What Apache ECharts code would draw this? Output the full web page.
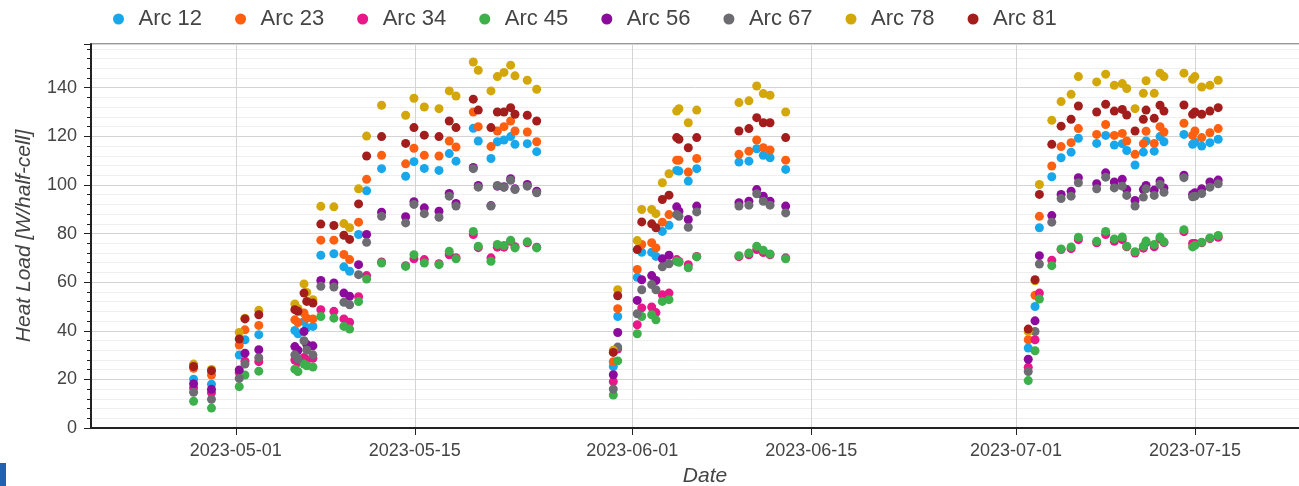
<!DOCTYPE html>
<html><head><meta charset="utf-8">
<script src="https://cdn.jsdelivr.net/npm/echarts@6/dist/echarts.min.js"></script>
<style>html,body{margin:0;padding:0;background:#fff}#c{width:1299px;height:486px}</style>
</head><body><div id="c"></div>
<script>
const seriesNames = ['Arc 12','Arc 23','Arc 34','Arc 45','Arc 56','Arc 67','Arc 78','Arc 81'];
const times = [
"2023-04-27T16:50","2023-04-29T02:25","2023-05-01T06:30","2023-05-01T17:15","2023-05-02T19:10","2023-05-05T14:50","2023-05-05T20:40","2023-05-06T08:00","2023-05-06T13:10","2023-05-07T00:45",
"2023-05-07T15:35","2023-05-08T16:05","2023-05-09T10:50","2023-05-09T21:35","2023-05-10T14:25","2023-05-11T05:30","2023-05-12T09:35","2023-05-14T06:45","2023-05-14T22:20","2023-05-15T17:45",
"2023-05-16T21:20","2023-05-17T16:35","2023-05-18T05:15","2023-05-19T13:40","2023-05-19T23:00","2023-05-20T22:50","2023-05-21T10:50","2023-05-21T23:15","2023-05-22T11:45","2023-05-22T19:55",
"2023-05-23T19:00","2023-05-24T12:40","2023-05-30T12:25","2023-05-30T20:40","2023-06-01T09:20","2023-06-01T17:45","2023-06-02T12:25","2023-06-02T20:25","2023-06-03T08:25","2023-06-03T20:55",
"2023-06-04T11:20","2023-06-04T15:35","2023-06-05T09:05","2023-06-06T00:55","2023-06-09T08:10","2023-06-10T02:50","2023-06-10T17:30","2023-06-11T05:50","2023-06-11T18:30","2023-06-12T23:50",
"2023-07-01T23:00","2023-07-02T11:45","2023-07-02T19:55","2023-07-03T19:10","2023-07-04T12:40","2023-07-05T07:25","2023-07-05T21:05","2023-07-07T07:25","2023-07-08T00:15","2023-07-08T16:30",
"2023-07-09T07:25","2023-07-09T15:50","2023-07-10T07:25","2023-07-10T23:00","2023-07-11T04:05","2023-07-11T19:25","2023-07-12T06:15","2023-07-12T13:40","2023-07-14T03:10","2023-07-14T19:25",
"2023-07-14T23:45","2023-07-15T12:30","2023-07-16T03:50","2023-07-16T19:25"];
const arc12 = [20.1,18.0,30.0,36.3,38.4,40.1,38.8,43.8,41.3,41.8,
71.1,71.7,66.3,64.5,79.6,97.6,106.7,103.6,109.6,106.8,
106.0,112.9,109.8,123.3,118.1,110.9,117.8,118.5,119.9,116.7,
117.0,113.7,25.3,45.9,62.0,72.3,72.3,70.6,80.9,83.4,
106.0,105.7,101.6,106.7,109.4,109.8,114.9,112.2,111.2,106.4,
32.9,50.0,82.4,103.4,111.2,113.5,119.2,117.1,120.4,116.4,
117.0,114.2,108.2,113.5,118.1,113.9,119.9,117.8,120.8,116.7,
117.6,116.0,117.4,118.8];
const arc23 = [24.6,21.8,34.1,40.4,42.2,44.5,43.4,47.3,45.2,44.9,
77.3,77.3,71.4,69.3,84.7,102.3,112.2,108.7,115.1,112.2,
111.9,118.1,115.6,130.0,124.0,115.8,122.2,124.0,126.3,122.2,
121.8,117.8,27.3,49.1,65.2,75.5,76.2,74.1,84.7,87.8,
110.2,110.2,105.3,110.9,112.6,113.9,118.5,115.3,114.4,110.2,
36.3,54.6,87.1,107.8,115.8,117.4,123.2,120.8,124.9,120.4,
121.2,118.1,112.6,117.0,122.1,117.1,124.0,121.8,125.4,120.4,
122.2,119.5,121.5,123.2];
const arc34 = [16.5,14.5,22.8,27.5,27.3,28.0,27.0,29.0,28.0,28.7,
48.7,48.0,44.9,43.5,54.0,62.7,68.3,66.8,69.6,69.3,
67.6,71.3,70.1,79.6,74.2,70.0,74.4,74.4,76.8,74.6,
76.2,74.4,19.1,32.5,42.5,49.4,49.8,47.5,54.8,55.5,
69.3,68.5,67.2,70.6,70.5,71.3,73.4,72.2,71.3,70.0,
25.0,36.3,55.5,69.0,73.4,73.8,77.5,76.2,79.6,76.8,
77.5,74.6,72.0,74.0,76.3,74.6,77.8,76.3,80.8,75.9,
75.9,76.2,77.9,78.5];
const arc45 = [11.0,8.2,17.0,21.8,23.4,24.2,23.2,26.3,25.6,25.1,
45.9,45.2,41.8,40.7,52.0,61.3,67.9,66.5,71.3,67.9,
67.2,72.7,69.6,80.9,74.8,68.6,75.5,75.1,77.2,74.1,
76.6,74.1,13.6,27.6,38.8,45.9,46.6,44.5,52.1,52.8,
68.6,68.2,65.9,70.4,70.9,72.0,74.8,73.1,71.6,69.6,
19.5,31.8,53.1,66.8,73.7,74.5,78.5,76.8,80.9,77.8,
78.6,74.8,72.5,74.8,76.9,75.5,78.6,76.6,81.6,74.5,
75.2,76.4,78.2,79.2];
const arc56 = [18.2,15.9,23.9,30.8,32.2,33.5,32.0,39.7,34.4,33.8,
60.7,59.7,55.5,54.2,67.2,79.6,88.8,86.9,93.1,90.6,
89.2,96.5,92.4,107.2,99.8,91.5,99.5,99.3,102.6,98.4,
100.2,97.4,21.9,39.3,52.5,61.0,62.7,60.7,69.6,71.1,
91.0,89.2,85.8,91.3,92.7,93.3,98.1,95.4,93.3,91.3,
28.3,44.1,70.9,87.4,96.1,97.4,103.0,100.5,105.0,101.2,
102.3,98.1,93.6,98.1,99.8,97.9,101.6,98.8,104.0,96.1,
96.8,98.4,101.2,102.0];
const arc67 = [14.7,11.8,20.4,26.3,28.9,30.1,28.5,35.9,32.1,30.1,
58.3,58.0,51.7,50.7,63.1,76.4,87.1,84.4,92.0,88.2,
86.7,95.4,91.3,106.7,99.1,91.3,99.8,99.0,101.9,98.1,
99.5,96.8,16.0,33.3,47.0,56.9,59.0,56.9,66.3,67.6,
87.8,87.1,82.6,88.9,91.3,91.7,96.4,93.3,91.7,88.5,
23.2,39.7,67.5,84.7,94.4,95.4,100.9,98.4,103.2,98.8,
99.5,95.7,91.3,95.0,98.4,95.7,100.2,97.0,103.0,95.1,
95.4,96.5,99.1,100.5];
const arc78 = [26.3,24.1,39.3,45.2,48.4,51.0,49.2,59.3,55.8,52.8,
91.2,91.0,84.1,82.4,98.4,120.1,132.8,128.7,135.7,132.1,
131.4,138.7,136.6,150.6,147.2,138.7,144.6,146.3,149.3,144.9,
143.1,139.4,32.0,56.9,77.1,89.9,89.9,88.2,100.9,104.6,
130.4,131.4,125.6,130.8,133.9,134.6,140.7,137.6,136.9,130.0,
39.7,60.6,100.2,126.6,134.3,137.3,144.6,142.4,145.6,141.0,
141.7,139.7,131.4,137.7,142.9,137.7,146.0,144.6,146.0,143.5,
144.6,140.3,141.0,143.1];
const arc81 = [25.3,23.6,36.6,44.9,46.6,48.7,48.0,55.5,52.1,51.4,
83.9,83.3,79.3,77.6,92.2,111.9,119.9,117.1,123.6,120.5,
119.9,126.3,123.6,135.3,130.8,123.6,130.0,130.0,131.8,129.1,
128.7,126.3,31.1,54.4,73.4,84.8,84.0,82.4,94.0,95.8,
119.5,118.8,115.3,119.5,122.2,123.2,127.7,125.6,125.6,119.5,
40.7,61.0,96.1,116.7,124.2,127.0,132.5,130.0,133.2,130.4,
131.1,128.8,122.2,127.0,130.8,127.4,132.8,130.4,132.9,129.1,
130.0,129.1,130.4,131.8];
const xTickLabels = ['2023-05-01','2023-05-15','2023-06-01','2023-06-15','2023-07-01','2023-07-15'];
const xMin = '2023-04-19T16:20';
const xMax = '2023-07-24T16:35';

const colors = ['#19a7ec','#ff5f10','#e8178a','#3daf4b','#8c0a9c','#6c6c72','#d3a60a','#a31d1d'];
const valueArrays = [arc12, arc23, arc34, arc45, arc56, arc67, arc78, arc81];
const ts = s => new Date(s).getTime();
const tickTs = xTickLabels.map(s => ts(s + 'T00:00'));
const pad = n => (n < 10 ? '0' : '') + n;
const fmtDate = v => { const d = new Date(v); return d.getFullYear() + '-' + pad(d.getMonth() + 1) + '-' + pad(d.getDate()); };

const series = seriesNames.map((n, i) => ({
  name: n, type: 'scatter', symbol: 'circle', symbolSize: 9,
  itemStyle: { color: colors[i], opacity: 1 },
  emphasis: { disabled: true },
  data: times.map((t, j) => [ts(t), valueArrays[i][j]])
}));

const chart = echarts.init(document.getElementById('c'));
chart.setOption({
  animation: false,
  textStyle: { fontFamily: '"Liberation Sans", Arial, sans-serif' },
  legend: {
    data: seriesNames, top: 3, left: 108, itemWidth: 30, itemHeight: 11, itemGap: 33,
    icon: 'circle', textStyle: { fontSize: 22, color: '#444' }
  },
  grid: { left: 91, right: -20, top: 44, bottom: 58, show: true, borderColor: '#333', borderWidth: 1,
          containLabel: false, outerBoundsMode: 'none' },
  xAxis: {
    type: 'value', min: ts(xMin), max: ts(xMax), scale: true,
    name: 'Date', nameLocation: 'middle', nameGap: 38,
    nameTextStyle: { fontStyle: 'italic', fontSize: 21, color: '#444' },
    axisLine: { onZero: false, lineStyle: { color: '#222', width: 2 } },
    axisTick: { show: true, length: 7, customValues: tickTs, lineStyle: { color: '#222' } },
    axisLabel: { customValues: tickTs, formatter: fmtDate, fontSize: 18, color: '#444', margin: 14 },
    splitLine: { show: true, lineStyle: { color: '#d4d4d4' } },
    minorTick: { show: false }
  },
  yAxis: {
    type: 'value', min: 0, max: 158, interval: 20,
    name: 'Heat Load [W/half-cell]', nameLocation: 'middle', nameGap: 56,
    nameTextStyle: { fontStyle: 'italic', fontSize: 21, color: '#444' },
    axisLine: { show: true, lineStyle: { color: '#222', width: 2 } },
    axisTick: { show: true, length: 7, lineStyle: { color: '#222' } },
    minorTick: { show: true, splitNumber: 5, length: 4, lineStyle: { color: '#222' } },
    axisLabel: { fontSize: 18, color: '#444', margin: 14, formatter: v => (v % 20 === 0 ? String(v) : '') },
    splitLine: { show: true, lineStyle: { color: '#d4d4d4' } },
    minorSplitLine: { show: true, lineStyle: { color: '#efefef' } }
  },
  graphic: [{ type: 'rect', left: 0, top: 463, shape: { width: 6, height: 23 }, style: { fill: '#2161b3' } }],
  series: series
});
</script></body></html>
